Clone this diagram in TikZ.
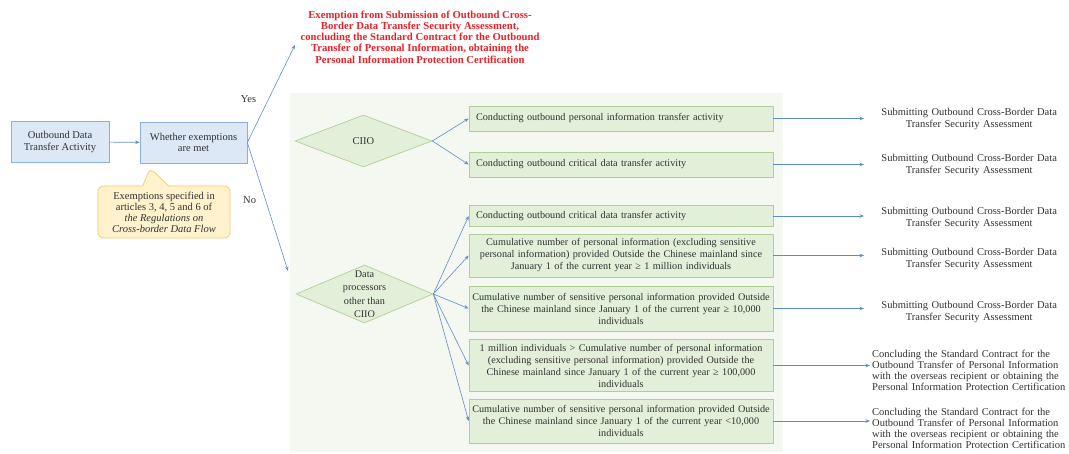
\documentclass[tikz,border=0pt]{standalone}
\usepackage{fontspec}
\setmainfont{Liberation Serif}
\usetikzlibrary{shapes.geometric,shapes.callouts,arrows.meta}

\definecolor{boxblue}{RGB}{220,232,246}
\definecolor{lineblue}{RGB}{140,175,220}
\definecolor{boxgreen}{RGB}{226,239,217}
\definecolor{linegreen}{RGB}{178,206,152}
\definecolor{bggreen}{RGB}{244,248,240}
\definecolor{notefill}{RGB}{255,242,204}
\definecolor{notedraw}{RGB}{245,200,110}
\definecolor{arrowblue}{RGB}{95,140,200}
\definecolor{titlered}{RGB}{232,35,40}
\definecolor{textgrey}{RGB}{50,50,50}

\begin{document}
\begin{tikzpicture}[x=1pt, y=-1pt,
  every node/.style={font=\fontsize{10.5}{11.5}\selectfont, text=textgrey},
  bluebox/.style={draw=lineblue, fill=boxblue, line width=0.7pt,
    minimum width=98pt, minimum height=41pt, align=center, inner sep=2pt},
  greenbox/.style={draw=linegreen, fill=boxgreen, line width=0.7pt,
    font=\fontsize{10.2}{12}\selectfont,
    minimum width=304pt, text width=298pt, inner sep=0pt},
  onerow/.style={greenbox, text width=290pt},
  choice/.style={diamond, draw=linegreen, fill=boxgreen, line width=0.7pt,
    minimum width=137pt, inner sep=0pt},
  result/.style={anchor=west, text width=206pt, align=center, inner sep=2pt},
  arr/.style={draw=arrowblue, line width=0.6pt, -{Stealth[length=4.5pt,width=3.5pt]}}]
        \useasboundingbox (0,0) rectangle (1069,454);
        \fill [bggreen] (290,93) rectangle (783,452);

        \node [bluebox] (src) at (60,142) {Outbound Data\\Transfer Activity};
        \node [bluebox, minimum width=107pt] (exm) at (193.5,142.5)
          {Whether exemptions\\are met};
        \draw [arr] (src) -- (exm);

        \node [rectangle callout, draw=notedraw, fill=notefill, line width=0.7pt,
          rounded corners=5pt, align=center, minimum width=132pt,
          minimum height=52pt, callout absolute pointer={(150,168)},
          callout pointer width=26pt, font=\fontsize{10.5}{11}\selectfont]
          (note) at (164,212)
          {Exemptions specified in\\articles 3, 4, 5 and 6 of\\
          \textit{the Regulations on}\\\textit{Cross-border Data Flow}};

        \node [font=\fontsize{10.7}{11.2}\selectfont\bfseries, text=titlered,
          align=center] (yesres) at (420,37)
          {Exemption from Submission of Outbound Cross-\\
          Border Data Transfer Security Assessment,\\
          concluding the Standard Contract for the Outbound\\
          Transfer of Personal Information, obtaining the\\
          Personal Information Protection Certification};
        \draw [arr] (exm.east) -- ([xshift=-2pt, yshift=-8pt]yesres.west)
          node [pos=0.45, left=9pt] {Yes};
        \coordinate (noend) at (288,271);
        \draw [arr] (exm.east) -- (noend) node [pos=0.45, left=6pt] {No};

        % CIIO branch
        \node [choice, minimum height=52pt] (ciio) at (363.5,141) {CIIO};
        \node [onerow, minimum height=25pt] (ciio1) at (621,118.5)
          {Conducting outbound personal information transfer activity};
        \node [onerow, minimum height=25pt] (ciio2) at (621,164.5)
          {Conducting outbound critical data transfer activity};
        \draw [arr] (ciio.east) -- (ciio1.west);
        \draw [arr] (ciio.east) -- (ciio2.west);

        % other data processors
        \node [choice, minimum height=58pt, label={[align=center,
          font=\fontsize{10.2}{13.5}\selectfont]center:Data\\processors\\other than\\CIIO}]
          (dp) at (364.5,294) {};
        \node [onerow, minimum height=21pt] (dp1) at (621,216)
          {Conducting outbound critical data transfer activity};
        \node [greenbox, align=center, minimum height=43pt] (dp2) at (621,255.5)
          {Cumulative number of personal information (excluding sensitive\\
          personal information) provided Outside the Chinese mainland since\\
          January 1 of the current year ≥ 1 million individuals};
        \node [greenbox, align=center, minimum height=45pt] (dp3) at (621,308.5)
          {Cumulative number of sensitive personal information provided Outside\\
          the Chinese mainland since January 1 of the current year ≥ 10,000\\
          individuals};
        \node [greenbox, align=center, minimum height=52pt] (dp4) at (621,365.5)
          {1 million individuals > Cumulative number of personal information\\
          (excluding sensitive personal information) provided Outside the\\
          Chinese mainland since January 1 of the current year ≥ 100,000\\
          individuals};
        \node [greenbox, align=center, minimum height=44pt] (dp5) at (621,421)
          {Cumulative number of sensitive personal information provided Outside\\
          the Chinese mainland since January 1 of the current year <10,000\\
          individuals};
        \foreach \b in {dp1,dp2,dp3,dp4,dp5}
          \draw [arr] (dp.east) -- (\b.west);

        % outcomes
        \node [result] (res1) at (864,119)
          {Submitting Outbound Cross-Border Data\\Transfer Security Assessment};
        \node [result] (res2) at (864,165)
          {Submitting Outbound Cross-Border Data\\Transfer Security Assessment};
        \node [result] (res3) at (864,218)
          {Submitting Outbound Cross-Border Data\\Transfer Security Assessment};
        \node [result] (res4) at (864,259)
          {Submitting Outbound Cross-Border Data\\Transfer Security Assessment};
        \node [result] (res5) at (864,312)
          {Submitting Outbound Cross-Border Data\\Transfer Security Assessment};
        \node [result, align=left, text width=196pt,
          font=\fontsize{10.5}{11}\selectfont] (res6) at (870,370)
          {Concluding the Standard Contract for the\\
          Outbound Transfer of Personal Information\\
          with the overseas recipient or obtaining the\\
          Personal Information Protection Certification};
        \node [result, align=left, text width=196pt,
          font=\fontsize{10.5}{11}\selectfont] (res7) at (870,428)
          {Concluding the Standard Contract for the\\
          Outbound Transfer of Personal Information\\
          with the overseas recipient or obtaining the\\
          Personal Information Protection Certification};
        \draw [arr] (ciio1.east) -- (ciio1.east -| res1.west);
        \draw [arr] (ciio2.east) -- (ciio2.east -| res2.west);
        \draw [arr] (dp1.east) -- (dp1.east -| res3.west);
        \draw [arr] (dp2.east) -- (dp2.east -| res4.west);
        \draw [arr] (dp3.east) -- (dp3.east -| res5.west);
        \draw [arr] (dp4.east) -- (dp4.east -| res6.west);
        \draw [arr] (dp5.east) -- (dp5.east -| res7.west);

\end{tikzpicture}
\end{document}
